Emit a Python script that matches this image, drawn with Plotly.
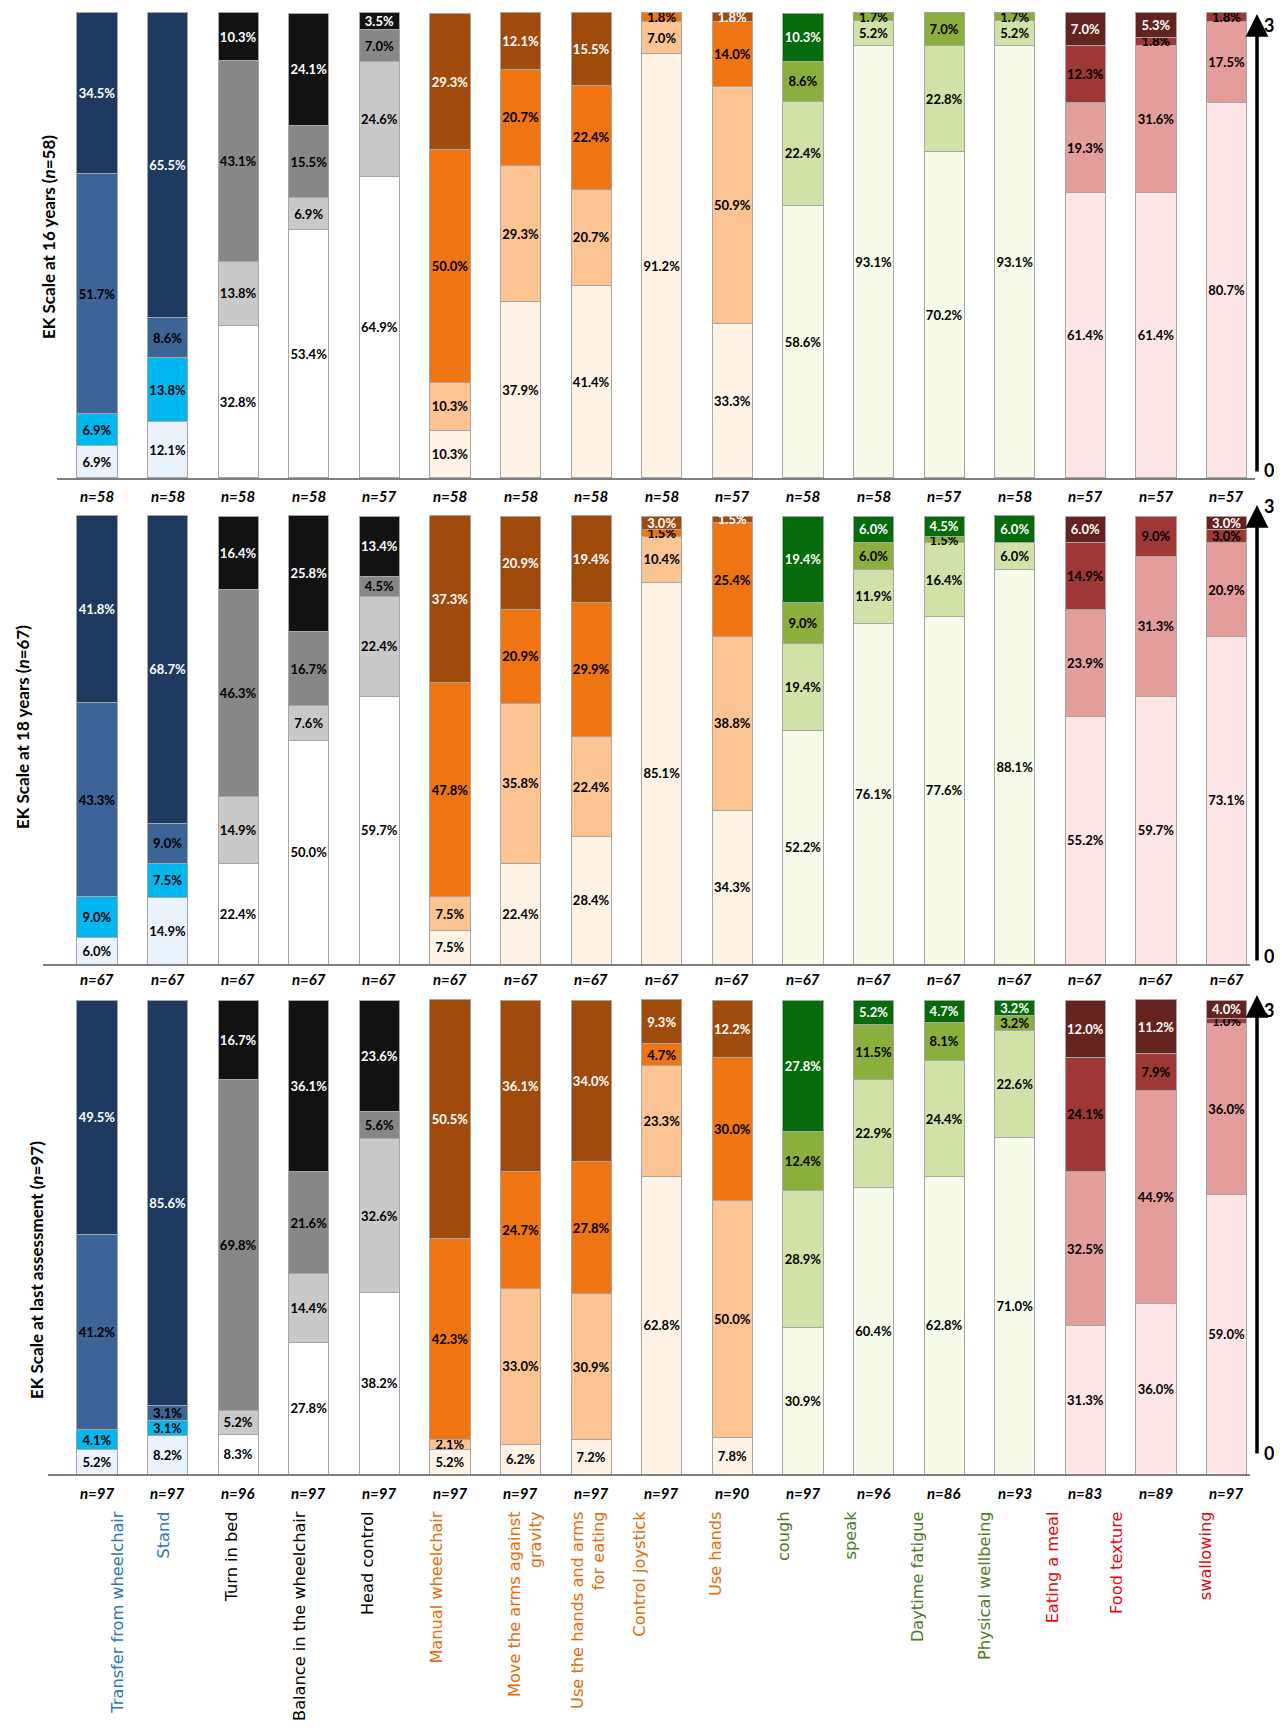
import plotly.graph_objects as go

# page is 1282 x 1731; the html body has an 8px margin on every side,
# so the figure is sized to fit inside and nothing may overflow it
PAGE_OFF = 8
W, H = 1282 - 2 * PAGE_OFF, 1731 - 2 * PAGE_OFF

# ---------------- data ----------------
categories = ["Transfer from wheelchair", "Stand", "Turn in bed", "Balance in the wheelchair",
              "Head control", "Manual wheelchair", "Move the arms against gravity",
              "Use the hands and arms for eating", "Control joystick", "Use hands", "cough",
              "speak", "Daytime fatigue", "Physical wellbeing", "Eating a meal", "Food texture",
              "swallowing"]
tick_labels = ["Transfer from wheelchair", "Stand", "Turn in bed", "Balance in the wheelchair",
               "Head control", "Manual wheelchair", "Move the arms against<br>gravity",
               "Use the hands and arms<br>for eating", "Control joystick", "Use hands", "cough",
               "speak", "Daytime fatigue", "Physical wellbeing", "Eating a meal", "Food texture",
               "swallowing"]
groups = ["blue", "blue", "gray", "gray", "gray", "orange", "orange", "orange", "orange", "orange",
          "green", "green", "green", "green", "red", "red", "red"]

# EK Scale at 16 years (score 0 .. 3, % of patients)
p16_s0 = [6.9, 12.1, 32.8, 53.4, 64.9, 10.3, 37.9, 41.4, 91.2, 33.3, 58.6, 93.1, 70.2, 93.1, 61.4, 61.4, 80.7]
p16_s1 = [6.9, 13.8, 13.8, 6.9, 24.6, 10.3, 29.3, 20.7, 7.0, 50.9, 22.4, 5.2, 22.8, 5.2, 19.3, 31.6, 17.5]
p16_s2 = [51.7, 8.6, 43.1, 15.5, 7.0, 50.0, 20.7, 22.4, 1.8, 14.0, 8.6, 1.7, 7.0, 1.7, 12.3, 1.8, 1.8]
p16_s3 = [34.5, 65.5, 10.3, 24.1, 3.5, 29.3, 12.1, 15.5, 0, 1.8, 10.3, 0, 0, 0, 7.0, 5.3, 0]
p16_n = [58, 58, 58, 58, 57, 58, 58, 58, 58, 57, 58, 58, 57, 58, 57, 57, 57]

# EK Scale at 18 years
p18_s0 = [6.0, 14.9, 22.4, 50.0, 59.7, 7.5, 22.4, 28.4, 85.1, 34.3, 52.2, 76.1, 77.6, 88.1, 55.2, 59.7, 73.1]
p18_s1 = [9.0, 7.5, 14.9, 7.6, 22.4, 7.5, 35.8, 22.4, 10.4, 38.8, 19.4, 11.9, 16.4, 6.0, 23.9, 31.3, 20.9]
p18_s2 = [43.3, 9.0, 46.3, 16.7, 4.5, 47.8, 20.9, 29.9, 1.5, 25.4, 9.0, 6.0, 1.5, 0, 14.9, 9.0, 3.0]
p18_s3 = [41.8, 68.7, 16.4, 25.8, 13.4, 37.3, 20.9, 19.4, 3.0, 1.5, 19.4, 6.0, 4.5, 6.0, 6.0, 0, 3.0]
p18_n = [67] * 17

# EK Scale at last assessment
plast_s0 = [5.2, 8.2, 8.3, 27.8, 38.2, 5.2, 6.2, 7.2, 62.8, 7.8, 30.9, 60.4, 62.8, 71.0, 31.3, 36.0, 59.0]
plast_s1 = [4.1, 3.1, 5.2, 14.4, 32.6, 2.1, 33.0, 30.9, 23.3, 50.0, 28.9, 22.9, 24.4, 22.6, 32.5, 44.9, 36.0]
plast_s2 = [41.2, 3.1, 69.8, 21.6, 5.6, 42.3, 24.7, 27.8, 4.7, 30.0, 12.4, 11.5, 8.1, 3.2, 24.1, 7.9, 1.0]
plast_s3 = [49.5, 85.6, 16.7, 36.1, 23.6, 50.5, 36.1, 34.0, 9.3, 12.2, 27.8, 5.2, 4.7, 3.2, 12.0, 11.2, 4.0]
plast_n = [97, 97, 96, 97, 97, 97, 97, 97, 97, 90, 97, 96, 86, 93, 83, 89, 97]

panel_titles = ["EK Scale at 16 years (<i>n</i>=58)",
                "EK Scale at 18 years (<i>n</i>=67)",
                "EK Scale at last assessment (<i>n</i>=97)"]

# ---------------- styles / layout ----------------
level_colors = {
    "blue":   ["#EAF2FB", "#00B8F0", "#3C6497", "#1F3A60"],
    "gray":   ["#FFFFFF", "#C9C9C9", "#878787", "#121212"],
    "orange": ["#FEF3E4", "#FCC493", "#EF7412", "#A04B0B"],
    "green":  ["#F6FBEA", "#D0E2A7", "#8BAF3C", "#066B0A"],
    "red":    ["#FDE6E5", "#E39D9B", "#9E3836", "#64231F"],
}
label_colors = {"blue": "#2E75B6", "gray": "#000000", "orange": "#E46C0A",
                "green": "#4F7A28", "red": "#E00B0B"}
text_colors = ["#000000", "#000000", "#000000", "#FFFFFF"]

# page-pixel layout (category slots)
FIRST_CENTER, SLOT = 97.0, 70.6
label_page_x = [118, 164, 232, 300, 368, 437, 525, 588, 640, 716, 784, 851, 918, 985, 1053, 1117, 1206]
YMAX = 100.25
ARROW_X, LAB_X = 1257, 1269


def px_x(p):
    return (p - PAGE_OFF) / W


def px_y(p):
    return 1 - (p - PAGE_OFF) / H


panels = [
    dict(levels=[p16_s0, p16_s1, p16_s2, p16_s3], n=p16_n, top=13, bottom=478,
         title_x=48, title_y=237, nlab_y=496, line=(57, 1255),
         arrow=(14, 473), lab3=25, lab0=470),
    dict(levels=[p18_s0, p18_s1, p18_s2, p18_s3], n=p18_n, top=516, bottom=964,
         title_x=22, title_y=727, nlab_y=979, line=(43, 1250),
         arrow=(505, 962), lab3=506, lab0=956),
    dict(levels=[plast_s0, plast_s1, plast_s2, plast_s3], n=plast_n, top=1000, bottom=1474,
         title_x=36, title_y=1270, nlab_y=1493, line=(48, 1250),
         arrow=(995, 1455), lab3=1010, lab0=1453),
]

x_left = FIRST_CENTER - SLOT / 2
x_right = x_left + SLOT * len(categories)
x_dom = [px_x(x_left), min(1.0, px_x(x_right))]

fig = go.Figure()
annotations = []
shapes = []

for pi, p in enumerate(panels):
    ax_id = "" if pi == 0 else str(pi + 1)
    for lvl in range(4):
        vals = p["levels"][lvl]
        fig.add_trace(go.Bar(
            x=categories, y=vals,
            xaxis="x" + ax_id, yaxis="y" + ax_id,
            marker=dict(color=[level_colors[g][lvl] for g in groups],
                        line=dict(color="#A6A6A6", width=1)),
            text=[f"{v:.1f}%" if v > 0 else "" for v in vals],
            textposition="inside", insidetextanchor="middle", textangle=0,
            textfont=dict(family="Lato", size=13, color=text_colors[lvl], weight="bold"),
            constraintext="none", cliponaxis=False,
            hoverinfo="skip", showlegend=False,
        ))
    span = p["bottom"] - p["top"]
    top_px = p["top"] - span * (YMAX - 100) / 100
    dom_y = [px_y(p["bottom"]), px_y(top_px)]
    fig.update_layout(**{
        "xaxis" + ax_id: dict(domain=x_dom, anchor="y" + ax_id, showticklabels=False,
                              showline=False, showgrid=False, zeroline=False, ticks="",
                              type="category", categoryorder="array", categoryarray=categories,
                              range=[-0.5, len(categories) - 0.5]),
        "yaxis" + ax_id: dict(domain=dom_y, anchor="x" + ax_id, range=[0, YMAX],
                              visible=False, showgrid=False, zeroline=False),
    })
    # n labels
    for c, nv in zip(categories, p["n"]):
        annotations.append(dict(x=c, xref="x" + ax_id, y=px_y(p["nlab_y"]), yref="paper",
                                text=f"<b><i>n={nv}</i></b>", showarrow=False,
                                font=dict(family="Lato", size=15, color="#000000"),
                                xanchor="center", yanchor="middle"))
    # panel title
    annotations.append(dict(x=px_x(p["title_x"]), y=px_y(p["title_y"]), xref="paper", yref="paper",
                            text=panel_titles[pi], textangle=-90, showarrow=False,
                            font=dict(family="Lato", size=17, color="#000000", weight="bold"),
                            xanchor="center", yanchor="middle"))
    # baseline
    shapes.append(dict(type="line", xref="paper", yref="paper",
                       x0=px_x(p["line"][0]), x1=px_x(p["line"][1]),
                       y0=px_y(p["bottom"] + 1), y1=px_y(p["bottom"] + 1),
                       line=dict(color="#7F7F7F", width=2)))
    # right arrow with 0 / 3 labels
    tip, tail = p["arrow"]
    annotations.append(dict(x=px_x(ARROW_X), y=px_y(tip), xref="paper", yref="paper",
                            ax=0, ay=tail - tip, axref="pixel", ayref="pixel",
                            showarrow=True, arrowhead=2, arrowsize=1.3, arrowwidth=3.5,
                            arrowcolor="#000000", text="", standoff=0))
    for lab, ly in (("3", p["lab3"]), ("0", p["lab0"])):
        annotations.append(dict(x=px_x(LAB_X), y=px_y(ly), xref="paper", yref="paper",
                                text=f"<b>{lab}</b>", showarrow=False,
                                xanchor="center", yanchor="middle",
                                font=dict(family="Lato", size=18, color="#000000")))

# category labels on an overlay axis (positions as in the original)
fig.add_trace(go.Scatter(x=[], y=[], xaxis="x4", yaxis="y3", showlegend=False, hoverinfo="skip"))
ticktext = [f"<span style='color:{label_colors[g]}'>{t}</span>" for t, g in zip(tick_labels, groups)]
tickvals = [(p - FIRST_CENTER) / SLOT for p in label_page_x]
fig.update_layout(xaxis4=dict(
    overlaying="x3", anchor="y3", domain=x_dom, range=[-0.5, len(categories) - 0.5],
    tickmode="array", tickvals=tickvals, ticktext=ticktext,
    tickangle=-90, ticks="outside", ticklen=30, tickcolor="rgba(0,0,0,0)",
    tickfont=dict(family="DejaVu Sans", size=16.2),
    showline=False, showgrid=False, zeroline=False,
))

fig.update_layout(
    width=W, height=H, margin=dict(l=0, r=0, t=0, b=0),
    barmode="stack", bargap=0.43,
    paper_bgcolor="white", plot_bgcolor="white", showlegend=False,
    annotations=annotations, shapes=shapes,
)

fig.write_html("out.html")
